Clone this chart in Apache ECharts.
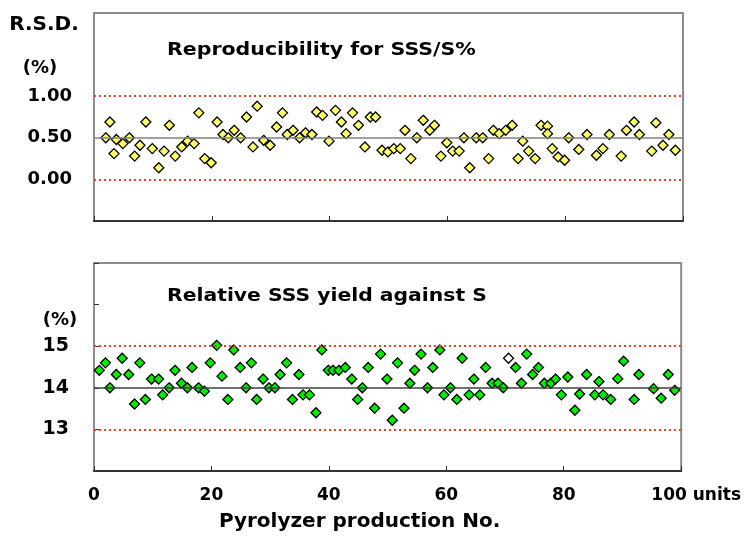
<!DOCTYPE html>
<html>
<head>
<meta charset="utf-8">
<script src="https://cdn.jsdelivr.net/npm/echarts@6/dist/echarts.min.js"></script>
<style>
html,body{margin:0;padding:0;background:#fff;}
#chart{width:744px;height:545px;}
</style>
</head>
<body>
<div id="chart"></div>
<script>
// ---- data ----
const rsdX = [2,2.7,3.4,3.8,4.9,6,6.9,7.8,8.8,9.9,11,11.9,12.8,13.8,14.9,15.9,17,17.8,18.8,19.9,20.9,21.9,22.8,23.8,24.9,25.9,27,27.7,28.8,29.9,31,32,32.8,33.8,34.9,35.9,37,37.8,38.8,39.9,41,42,42.8,43.9,44.9,46,46.9,47.8,48.9,49.9,50.9,52,52.8,53.8,54.8,55.9,57,57.8,58.9,59.9,60.9,62,62.8,63.8,64.9,66,67,67.8,68.8,69.9,71,72,72.8,73.8,74.9,75.9,77,77,77.8,78.8,79.9,80.6,82.3,83.7,85.3,86.4,87.5,89.5,90.4,91.7,92.6,94.7,95.4,96.6,97.6,98.7];
const rsdValues = [0.50,0.69,0.31,0.48,0.43,0.50,0.28,0.41,0.69,0.37,0.14,0.34,0.65,0.28,0.39,0.46,0.43,0.80,0.25,0.20,0.69,0.54,0.50,0.59,0.50,0.75,0.39,0.88,0.47,0.41,0.63,0.80,0.54,0.59,0.50,0.56,0.54,0.81,0.77,0.46,0.83,0.69,0.55,0.80,0.65,0.39,0.75,0.75,0.35,0.33,0.37,0.37,0.59,0.25,0.50,0.71,0.59,0.65,0.28,0.44,0.34,0.34,0.50,0.14,0.50,0.50,0.25,0.59,0.55,0.59,0.65,0.25,0.46,0.34,0.25,0.65,0.64,0.55,0.37,0.27,0.23,0.50,0.36,0.54,0.29,0.37,0.54,0.28,0.59,0.69,0.54,0.34,0.68,0.41,0.54,0.35];

const yieldX = [0.9,1.95,2.7,3.8,4.8,5.9,6.9,7.8,8.75,9.8,11,11.7,12.8,13.8,14.9,15.9,16.7,17.8,18.8,19.8,20.9,21.8,22.8,23.8,24.9,25.9,26.8,27.7,28.8,29.8,30.8,31.7,32.8,33.8,34.9,35.6,36.7,37.8,38.8,39.9,40.7,41.7,42.8,43.9,44.9,45.7,46.7,47.8,48.8,49.9,50.8,51.7,52.8,53.8,54.6,55.7,56.8,57.7,58.9,59.6,60.7,61.8,62.7,63.9,64.7,65.7,66.7,67.8,68.8,69.7,70.6,71.8,72.8,73.7,74.7,75.7,76.7,77.8,78.6,79.6,80.7,81.9,82.7,83.9,85.3,86,86.7,88,89.2,90.2,92,92.8,95.3,96.6,97.8,98.9];
const yieldValues = [14.42,14.60,14.00,14.32,14.71,14.32,13.61,14.60,13.72,14.21,14.21,13.83,14.00,14.42,14.11,14.00,14.49,14.00,13.92,14.60,15.02,14.28,13.72,14.91,14.49,14.00,14.60,13.72,14.21,14.00,14.00,14.32,14.60,13.72,14.32,13.83,13.83,13.40,14.91,14.42,14.42,14.42,14.49,14.21,13.72,14.00,14.49,13.51,14.81,14.21,13.22,14.60,13.51,14.11,14.42,14.81,14.00,14.49,14.91,13.83,14.00,13.72,14.71,13.83,14.21,13.83,14.49,14.11,14.11,14.00,14.71,14.49,14.11,14.81,14.32,14.49,14.11,14.11,14.21,13.83,14.26,13.46,13.85,14.32,13.83,14.15,13.83,13.72,14.22,14.64,13.72,14.32,13.98,13.75,14.32,13.94];
const yieldHollowIndex = [70];

const xTicks = [0,20,40,60,80,100];
const xTickLabels = ['0','20','40','60','80','100 units'];
const rsdTicks = [0,0.5,1.0];
const rsdTickLabels = ['0.00','0.50','1.00'];
const yieldTicks = [13,14,15];
const yieldTickLabels = ['13','14','15'];
const rsdLimits = [0,1.0];   // dotted red lines
const rsdCenter = [0.5];     // solid line
const yieldLimits = [13,15];
const yieldCenter = [14];

// ---- chart ----
const FONT = '"DejaVu Sans", "Liberation Sans", Arial, sans-serif';
const RED = '#e2451e';

function labelFrom(ticks, labels){
  return function(v){
    for (let i=0;i<ticks.length;i++){ if (Math.abs(ticks[i]-v)<1e-6) return labels[i]; }
    return '';
  };
}
function xLabel(v){
  const s = labelFrom(xTicks, xTickLabels)(v);
  return v === xTicks[xTicks.length-1] ? '{last|' + s + '}' : s;
}
function refLines(limits, center, centerColor){
  const d = [];
  limits.forEach(v=>d.push({yAxis:v, lineStyle:{color:RED, type:[2,3], width:2}}));
  center.forEach(v=>d.push({yAxis:v, lineStyle:{color:centerColor, type:'solid', width:1.5}}));
  return {silent:true, symbol:'none', label:{show:false}, animation:false, data:d};
}

const chart = echarts.init(document.getElementById('chart'), null, {renderer:'canvas'});
const commonX = {
  type:'value', min:0, max:100, interval:20,
  axisLine:{show:true, onZero:false, lineStyle:{color:'#333', width:2}},
  axisTick:{show:true, inside:true, length:5, lineStyle:{color:'#333', width:1}},
  splitLine:{show:false}
};

chart.setOption({
  animation:false,
  grid:[
    {left:94, top:13, width:589, height:208, show:true, borderColor:'#8c8c8c', borderWidth:2},
    {left:94, top:263, width:589, height:208, show:true, borderColor:'#8c8c8c', borderWidth:2}
  ],
  xAxis:[
    Object.assign({}, commonX, {gridIndex:0, axisLabel:{show:false}}),
    Object.assign({}, commonX, {gridIndex:1,
      axisLabel:{show:true, margin:16, color:'#000', fontFamily:FONT, fontWeight:'bold', fontSize:17,
        formatter:xLabel,
        rich:{last:{color:'#000', fontFamily:FONT, fontWeight:'bold', fontSize:17, padding:[0,0,0,30]}}},
      name:'Pyrolyzer production No.', nameLocation:'middle', nameGap:41,
      nameTextStyle:{color:'#000', fontFamily:FONT, fontWeight:'bold', fontSize:20, padding:[0,56,0,0]}
    })
  ],
  yAxis:[
    {gridIndex:0, type:'value', min:-0.5, max:2.0, interval:0.5,
      axisLine:{show:true, onZero:false, lineStyle:{color:'#8c8c8c', width:2}},
      axisTick:{show:false}, splitLine:{show:false},
      axisLabel:{margin:22, color:'#000', fontFamily:FONT, fontWeight:'bold', fontSize:18,
        formatter:labelFrom(rsdTicks, rsdTickLabels)}},
    {gridIndex:1, type:'value', min:12, max:17, interval:1,
      axisLine:{show:true, onZero:false, lineStyle:{color:'#8c8c8c', width:2}},
      axisTick:{show:true, inside:true, length:5, lineStyle:{color:'#333', width:1}},
      splitLine:{show:false},
      axisLabel:{margin:25, color:'#000', fontFamily:FONT, fontWeight:'bold', fontSize:19,
        formatter:labelFrom(yieldTicks, yieldTickLabels)}}
  ],
  series:[
    {type:'scatter', xAxisIndex:0, yAxisIndex:0, symbol:'diamond', symbolSize:[10,10],
      itemStyle:{color:'#ffff66', borderColor:'#000', borderWidth:1.3, opacity:1},
      data: rsdX.map((x,i)=>[x, rsdValues[i]]),
      markLine: refLines(rsdLimits, rsdCenter, '#808080'), z:3},
    {type:'scatter', xAxisIndex:1, yAxisIndex:1, symbol:'diamond', symbolSize:[10,10],
      itemStyle:{color:'#00ee00', borderColor:'#000', borderWidth:1.3, opacity:1},
      data: yieldX.map((x,i)=>{
        const p = {value:[x, yieldValues[i]]};
        if (yieldHollowIndex.indexOf(i)>=0) p.itemStyle = {color:'#ffffff'};
        return p;
      }),
      markLine: refLines(yieldLimits, yieldCenter, '#404040'), z:3}
  ],
  graphic:[
    {type:'text', x:44, y:25, style:{text:'R.S.D.', fill:'#000', font:'bold 20px '+FONT, textAlign:'center', textVerticalAlign:'middle'}},
    {type:'text', x:40, y:68, style:{text:'(%)', fill:'#000', font:'bold 18px '+FONT, textAlign:'center', textVerticalAlign:'middle'}},
    {type:'text', x:60, y:320, style:{text:'(%)', fill:'#000', font:'bold 18px '+FONT, textAlign:'center', textVerticalAlign:'middle'}},
    {type:'text', x:167, y:50, scaleX:1.14, style:{text:'Reproducibility for SSS/S%', fill:'#000', font:'bold 18px '+FONT, textAlign:'left', textVerticalAlign:'middle'}},
    {type:'text', x:167, y:296, scaleX:1.13, style:{text:'Relative SSS yield against S', fill:'#000', font:'bold 18px '+FONT, textAlign:'left', textVerticalAlign:'middle'}}
  ]
});
</script>
</body>
</html>
